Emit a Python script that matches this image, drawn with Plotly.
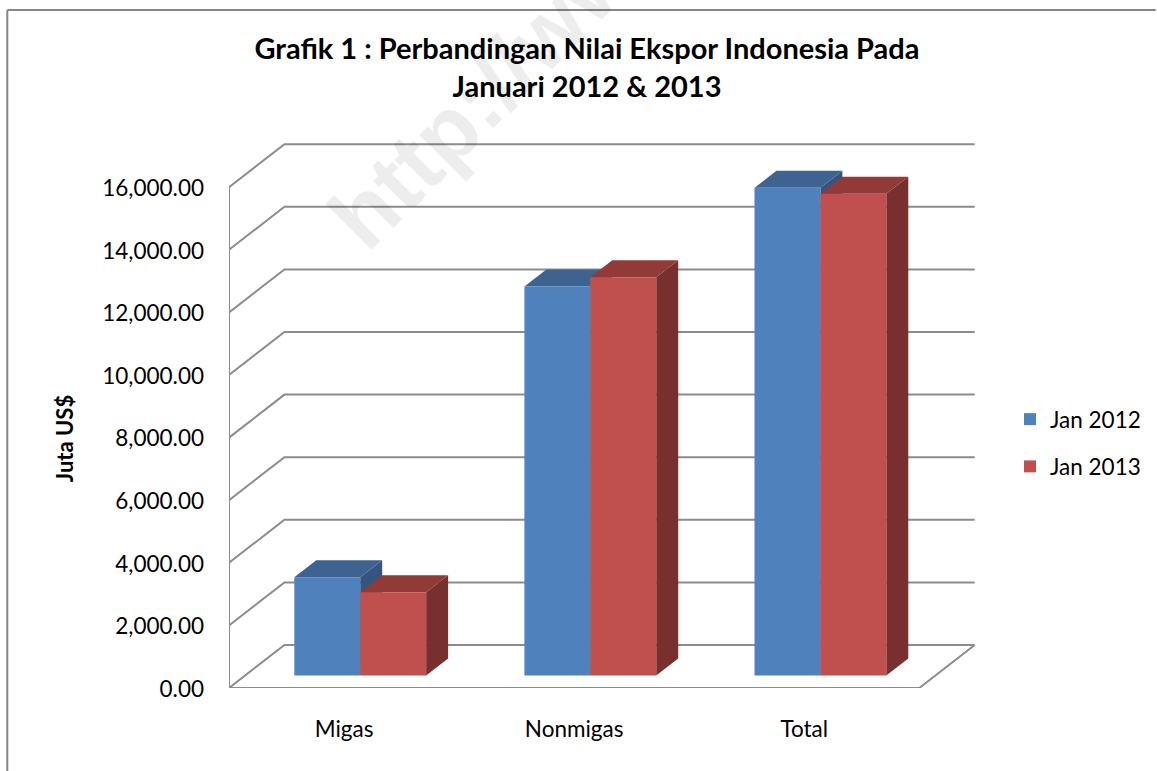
import plotly.graph_objects as go

categories = ["Migas", "Nonmigas", "Total"]
jan_2012 = [3140, 12430, 15580]
jan_2013 = [2660, 12725, 15390]
tick_values = [0, 2000, 4000, 6000, 8000, 10000, 12000, 14000, 16000]

W, H = 1157, 771
LEFT, RIGHT, TOP, BOTTOM = 229, 977, 140, 688
CAT_PX = 230.4
Y_PX = 0.0313
FONT = "Lato"
TEXT_SIZE = 22.5

def dx(px):
    return px / CAT_PX

def dy(px):
    return px / Y_PX

x_max = dx(RIGHT - LEFT)
y_max = dy(BOTTOM - TOP)
BACK_X, BACK_Y = dx(55.5), dy(43)
BAR_W = dx(66)
BAR_START = dx(65.4)
BAR_BASE = dy(12.5)
DEPTH_X, DEPTH_Y = dx(22), dy(17)

GRID = "#8c8c8c"
COL = {
    "Jan 2012": ("#4F81BD", "#3F6390", "#33557F"),
    "Jan 2013": ("#C0504D", "#923A38", "#78302F"),
}


def poly(points, color):
    path = "M " + " L ".join(f"{x},{y}" for x, y in points) + " Z"
    return dict(type="path", path=path, xref="x", yref="y", layer="below",
                fillcolor=color, line=dict(width=0))


def open_line(points):
    path = "M " + " L ".join(f"{x},{y}" for x, y in points)
    return dict(type="path", path=path, xref="x", yref="y", layer="below",
                line=dict(color=GRID, width=2))


shapes = []
for v in tick_values:
    shapes.append(open_line([(0, v), (BACK_X, v + BACK_Y), (3 + BACK_X, v + BACK_Y)]))
shapes.append(open_line([(0, tick_values[-1]), (0, 0), (3, 0), (3 + BACK_X, BACK_Y)]))

fig = go.Figure()
for s, (name, values) in enumerate([("Jan 2012", jan_2012), ("Jan 2013", jan_2013)]):
    front, top, side = COL[name]
    xs, bases = [], []
    for i, v in enumerate(values):
        x0 = i + BAR_START + s * BAR_W
        x1 = x0 + BAR_W
        yb, yt = BAR_BASE, BAR_BASE + v
        shapes.append(poly([(x1, yb), (x1 + DEPTH_X, yb + DEPTH_Y),
                            (x1 + DEPTH_X, yt + DEPTH_Y), (x1, yt)], side))
        shapes.append(poly([(x0, yt), (x0 + DEPTH_X, yt + DEPTH_Y),
                            (x1 + DEPTH_X, yt + DEPTH_Y), (x1, yt)], top))
        xs.append(x0 + BAR_W / 2)
        bases.append(BAR_BASE)
    fig.add_trace(go.Bar(x=xs, y=values, base=bases, width=BAR_W, name=name,
                         legendgroup=name,
                         marker=dict(color=front, line=dict(width=0))))

def px_x(p):
    return (p - LEFT) / (RIGHT - LEFT)

def px_y(p):
    return (BOTTOM - p) / (BOTTOM - TOP)

border = dict(type="line", xref="paper", yref="paper", layer="below",
              line=dict(color="#868686", width=2))
shapes.append(dict(border, x0=px_x(7), x1=px_x(W), y0=px_y(10), y1=px_y(10)))
shapes.append(dict(border, x0=px_x(7), x1=px_x(7), y0=px_y(10), y1=px_y(H)))

fig.update_layout(
    width=W, height=H, autosize=False,
    margin=dict(l=LEFT, r=W - RIGHT, t=TOP, b=H - BOTTOM, pad=0),
    paper_bgcolor="white", plot_bgcolor="white",
    font=dict(family=FONT, color="#000000", size=TEXT_SIZE),
    barmode="overlay", shapes=shapes,
    title=dict(
        text="<b>Grafik 1 : Perbandingan Nilai Ekspor Indonesia Pada<br>Januari 2012 &amp; 2013</b>",
        x=587 / W, xanchor="center", y=1 - 59 / H, yanchor="top",
        font=dict(family=FONT, size=29, color="#000000"),
    ),
    xaxis=dict(range=[0, x_max], tickvals=[0.5, 1.5, 2.5], ticktext=categories,
               showgrid=False, zeroline=False, showline=False, ticks="",
               ticklabelstandoff=25, tickfont=dict(size=TEXT_SIZE), fixedrange=True),
    yaxis=dict(range=[0, y_max], tickvals=tick_values, tickformat=",.2f",
               showgrid=False, zeroline=False, showline=False, ticks="",
               ticklabelstandoff=24, ticklabelshift=1, tickfont=dict(size=TEXT_SIZE),
               fixedrange=True),
    legend=dict(x=px_x(1010), xanchor="left", y=px_y(398), yanchor="top",
                tracegroupgap=15, itemclick=False, itemdoubleclick=False,
                traceorder="grouped", font=dict(size=TEXT_SIZE), bgcolor="rgba(0,0,0,0)"),
    showlegend=True,
    annotations=[
        dict(text="<b>Juta US$</b>", xref="paper", yref="paper", x=px_x(64), y=px_y(439),
             xanchor="center", yanchor="middle", textangle=-90, showarrow=False,
             font=dict(family=FONT, size=22, color="#000000")),
        dict(text="<b>http://ww</b>", xref="paper", yref="paper", x=px_x(484), y=px_y(94),
             xanchor="center", yanchor="middle", textangle=-45, showarrow=False,
             font=dict(family="Liberation Sans", size=90, color="rgba(0,0,0,0.07)")),
    ],
)

fig.write_html("out.html", config=dict(displayModeBar=False),
               post_script="document.body.style.margin='0';document.body.style.overflow='hidden';")
